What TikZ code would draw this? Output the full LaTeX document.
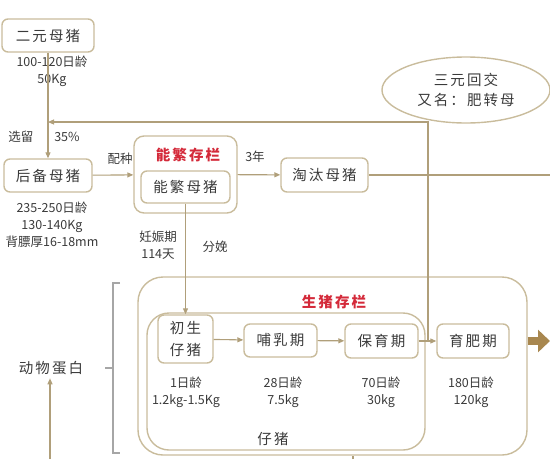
\documentclass[tikz,border=0pt]{standalone}
\usepackage{fontspec}
\setmainfont{Noto Sans CJK SC}
\newfontfamily\cnwide{Noto Sans CJK SC}[LetterSpace=14]
\usetikzlibrary{shapes.geometric,arrows.meta}

\definecolor{frame}{HTML}{C9BC9C}
\definecolor{link}{HTML}{B09F7A}
\definecolor{redtitle}{HTML}{D42A3A}
\definecolor{ink}{HTML}{3A3A3A}
\definecolor{bigarrow}{HTML}{A8874F}

\begin{document}
\begin{tikzpicture}[x=1pt,y=-1pt]

  % Styles for boxes, links and texts
  \tikzset{
      box/.style={draw=frame, line width=1.4pt, rounded corners=6pt, text=ink,
                  font=\cnwide\fontsize{14.5}{18}\selectfont, inner sep=0pt, align=center},
      panel/.style={draw=frame, line width=1.4pt, inner sep=0pt},
      pen/.style={draw=link, line width=1.1pt},
      flow/.style={pen, -{Triangle[length=6pt,width=5pt]}},
      note/.style={text=ink, font=\fontsize{12.5}{17}\selectfont, align=center, inner sep=1pt},
      heading/.style={text=redtitle, font=\cnwide\fontsize{14.5}{18}\selectfont\bfseries}
  }

  \useasboundingbox (0,0) rectangle (550,459);

  % Sow line
  \node[box, minimum width=92pt, minimum height=33pt] (eryuan) at (48,35.5) {二元母猪};
  \node[note] (eryuaninfo) at (52,71) {100-120日龄\\50Kg};
  \node[box, minimum width=88pt, minimum height=33pt] (houbei) at (48,175.5) {后备母猪};
  \node[note] (houbeiinfo) at (52,225) {235-250日龄\\130-140Kg\\背膘厚16-18mm};
  \node[note] (xuanliu) at (21,137) {选留};
  \node[note] (pct) at (67,137) {35\%};

  % Breeding sow stock
  \node[panel, rounded corners=10pt, minimum width=103pt, minimum height=77pt] (nfstock) at (185.5,174.5) {};
  \node[heading] (nftitle) at (188,155) {能繁存栏};
  \node[box, minimum width=89pt, minimum height=32pt] (nfsow) at (185.5,187) {能繁母猪};
  \node[box, minimum width=87pt, minimum height=34pt] (taotai) at (324.5,175) {淘汰母猪};
  \node[note] (peizhong) at (120,159) {配种};
  \node[note] (years) at (255,157) {3年};

  \node[ellipse, draw=frame, line width=1.4pt, minimum width=168pt, minimum height=66pt,
        text=ink, font=\cnwide\fontsize{14.5}{20}\selectfont, align=center] (huijiao) at (466,90)
        {三元回交\\又名：肥转母};

  % Hog stock
  \node[panel, rounded corners=25pt, minimum width=389pt, minimum height=178pt] (hogstock) at (332.5,366) {};
  \node[heading] (hogtitle) at (334,302) {生猪存栏};
  \node[panel, rounded corners=22pt, minimum width=278pt, minimum height=137pt] (piglet) at (286,381.5) {};
  \node[box, font=\cnwide\fontsize{14.5}{22}\selectfont, minimum width=55pt, minimum height=48pt] (chusheng) at (185.5,339) {初生\\仔猪};
  \node[box, minimum width=73pt, minimum height=33pt] (buru) at (280.5,340.5) {哺乳期};
  \node[box, minimum width=73pt, minimum height=34pt] (baoyu) at (381.5,341) {保育期};
  \node[box, minimum width=72pt, minimum height=34pt] (yufei) at (473,341) {育肥期};
  \node[note, font=\cnwide\fontsize{14.5}{18}\selectfont] (zizhu) at (273,439) {仔猪};

  \foreach \x/\d/\w in {186/1/1.2kg-1.5Kg, 283/28/7.5kg, 381/70/30kg, 471/180/120kg} {
      \node[note] (age\d) at (\x,392) {{\d}日龄\\{\w}};
  }

  \node[note] (renshen) at (158,245) {妊娠期\\114天};
  \node[note] (fenmian) at (215,247) {分娩};
  \node[text=ink, font=\cnwide\fontsize{14.5}{18}\selectfont] (protein) at (51,368) {动物蛋白};

  % Free ends
  \coordinate (merge) at (48,122);
  \coordinate (split) at (428,341);
  \coordinate (outcull) at (550,175);
  \coordinate (outhog) at (550,341);
  \coordinate (base) at (50,459);
  \coordinate (stub) at (353,459);

  % Connectors
  \draw[flow] (eryuan) -- (houbei);
  \draw[flow] (split) |- (merge);
  \draw[flow] (houbei) -- (nfstock);
  \draw[flow] (nfstock) -- (taotai);
  \draw[pen] (taotai) -- (outcull);
  \draw[flow] (nfsow) -- (chusheng);
  \draw[flow] (chusheng) -- (buru);
  \draw[flow] (buru) -- (baoyu);
  \draw[flow] (baoyu) -- (yufei);
  \draw[flow] (base) -- (protein.south -| base);
  \draw[pen] (stub) -- (hogstock.south -| stub);
  \draw[draw=bigarrow, line width=8pt, -{Triangle[length=12pt,width=22pt]}] (hogstock.east |- outhog) -- (outhog);

  % Bracket round the hog stock
  \draw[pen, draw=gray!70] (120,283) -- (113,283) -- (113,453) -- (120,453);
  \draw[pen, draw=gray!70] (113,368) -- (105,368);

\end{tikzpicture}
\end{document}
